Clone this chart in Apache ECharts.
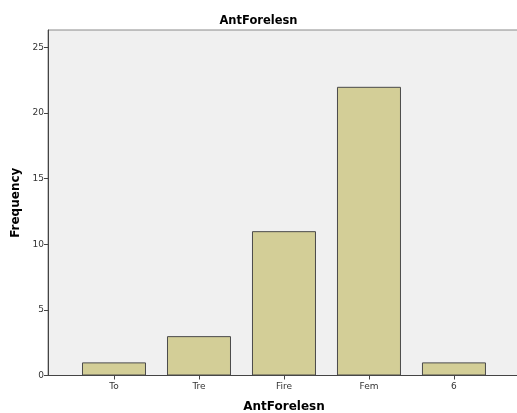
<!DOCTYPE html>
<html><head><meta charset="utf-8">
<script src="https://cdn.jsdelivr.net/npm/echarts@6/dist/echarts.min.js"></script>
<style>html,body{margin:0;padding:0;background:#fff}#c{width:517px;height:413px}</style>
</head><body><div id="c"></div>
<script>
var categories = ['To', 'Tre', 'Fire', 'Fem', '6'];
var frequencies = [1, 3, 11, 22, 1];
var yTicks = [0, 5, 10, 15, 20, 25];

var positions = categories.map(function (c, i) { return i + 1; });
var barData = positions.map(function (p, i) { return [p, frequencies[i]]; });

var chart = echarts.init(document.getElementById('c'), null, { renderer: 'canvas' });
var font = '"DejaVu Sans", Verdana, sans-serif';
chart.setOption({
  animation: false,
  textStyle: { fontFamily: font },
  title: {
    text: 'AntForelesn', left: 'center', top: 10,
    textStyle: { fontSize: 11.5, fontWeight: 'bold', color: '#000', fontFamily: font }
  },
  grid: {
    left: 48, top: 30, right: -3, bottom: 37.5,
    outerBoundsMode: 'none', containLabel: false,
    show: true, backgroundColor: '#F0F0F0', borderColor: '#8a8a8a', borderWidth: 1
  },
  xAxis: {
    type: 'value', min: 0.2235, max: 5.777,
    name: 'AntForelesn', nameLocation: 'middle', nameGap: 25,
    nameTextStyle: { fontSize: 12, fontWeight: 'bold', color: '#000', fontFamily: font },
    axisLine: { show: true, onZero: false, lineStyle: { color: '#444', width: 1 } },
    axisTick: { show: true, length: 4, lineStyle: { color: '#444' }, customValues: positions },
    axisLabel: {
      fontSize: 9, color: '#333', margin: 7, customValues: positions,
      formatter: function (v) { return categories[Math.round(v) - 1] || ''; }
    },
    splitLine: { show: false }
  },
  yAxis: {
    type: 'value', min: 0, max: 26.33, interval: 5,
    name: 'Frequency', nameLocation: 'middle', nameGap: 25,
    nameTextStyle: { fontSize: 12, fontWeight: 'bold', color: '#000', fontFamily: font },
    axisLine: { show: true, lineStyle: { color: '#444', width: 1 } },
    axisTick: { show: true, length: 4, lineStyle: { color: '#444' }, customValues: yTicks },
    axisLabel: { fontSize: 9, color: '#333', margin: 4, customValues: yTicks },
    splitLine: { show: false }
  },
  series: [{
    type: 'bar', data: barData, barWidth: 64,
    itemStyle: { color: '#D3CE97', borderColor: '#4a4a4a', borderWidth: 1 }
  }]
});
</script></body></html>
